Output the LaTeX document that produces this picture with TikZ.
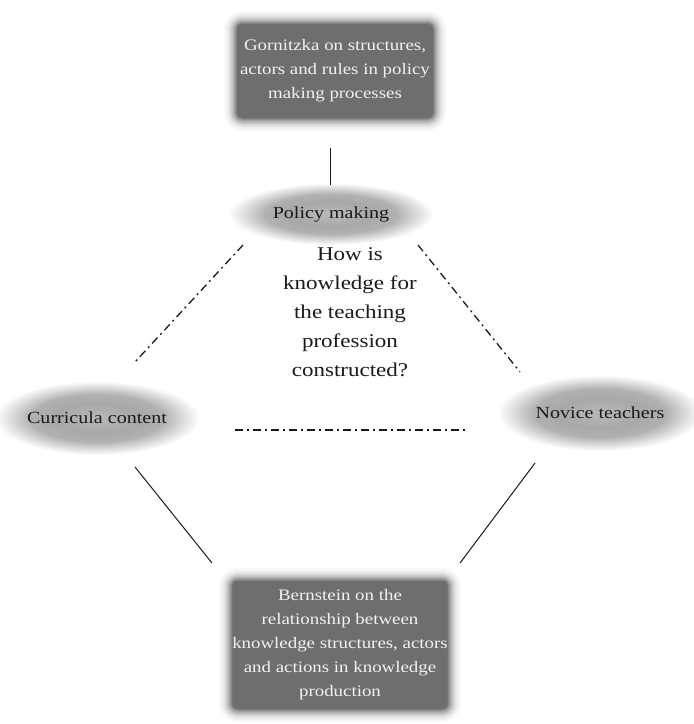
\documentclass[tikz,border=0pt]{standalone}
\usepackage{fontspec}
\setmainfont{Liberation Serif}[FakeStretch=1.18]
\usetikzlibrary{shapes.geometric}
\definecolor{boxgray}{HTML}{6E6E6E}
\definecolor{ellgray}{HTML}{A8A8A8}
\definecolor{txt}{HTML}{1A1A1A}
\definecolor{boxtxt}{HTML}{F2F2F2}
\pgfdeclareradialshading{ellshade}{\pgfpoint{0bp}{0bp}}{color(0bp)=(ellgray!80!white); color(10bp)=(ellgray); color(16bp)=(ellgray!90!white); color(25bp)=(white); color(50bp)=(white)}
\begin{document}
\begin{tikzpicture}[x=1pt,y=-1pt,
  softbox/.style={fill=boxgray, rounded corners=5pt, line join=round,
    preaction={draw=boxgray!5, line width=26pt},
    preaction={draw=boxgray!10, line width=22pt},
    preaction={draw=boxgray!17, line width=18pt},
    preaction={draw=boxgray!26, line width=15pt},
    preaction={draw=boxgray!37, line width=12pt},
    preaction={draw=boxgray!50, line width=9pt},
    preaction={draw=boxgray!64, line width=6pt},
    preaction={draw=boxgray!78, line width=3.5pt},
    preaction={draw=boxgray!90, line width=1.5pt},
    text=boxtxt, align=center, inner sep=0pt, font=\fontsize{16}{24}\selectfont},
  softell/.style={ellipse, shading=ellshade, text=txt, inner sep=0pt,
    font=\fontsize{17}{20}\selectfont},
  dashdot/.style={line width=1.3pt, dash pattern=on 8pt off 4pt on 2pt off 4pt, draw=txt},
  solidline/.style={line width=1pt, draw=txt}]
\useasboundingbox (0,0) rectangle (694,724);
% boxes
\node[softbox, minimum width=196pt, minimum height=94pt] (top) at (335,71)
  {Gornitzka on structures,\\actors and rules in policy\\making processes};
\node[softbox, minimum width=204pt, minimum height=128pt] (bot) at (340,645)
  {Bernstein on the\\relationship between\\knowledge structures, actors\\and actions in knowledge\\production};
% ellipses
\node[softell, minimum width=205pt, minimum height=62pt] (pol) at (331,214) {Policy making};
\node[softell, minimum width=205pt, minimum height=74pt] (cur) at (97,418) {Curricula content};
\node[softell, minimum width=205pt, minimum height=76pt] (nov) at (600,413) {Novice teachers};
% question
\node[text=txt, align=center, font=\fontsize{19.5}{29}\selectfont] (q) at (350,312)
  {How is\\knowledge for\\the teaching\\profession\\constructed?};
% connector end points
\coordinate (v1) at (330,148); \coordinate (v2) at (330,185);
\coordinate (l1) at (243,245); \coordinate (l2) at (135,362);
\coordinate (r1) at (418,245); \coordinate (r2) at (520,372);
\coordinate (h1) at (235,430); \coordinate (h2) at (465,430);
\coordinate (a1) at (135,467); \coordinate (a2) at (212,563);
\coordinate (b1) at (535,463); \coordinate (b2) at (460,563);
\draw[solidline] (v1) -- (v2);
\draw[dashdot] (l1) -- (l2);
\draw[dashdot] (r1) -- (r2);
\draw[dashdot] (h1) -- (h2);
\draw[solidline] (a1) -- (a2);
\draw[solidline] (b1) -- (b2);
\end{tikzpicture}
\end{document}
